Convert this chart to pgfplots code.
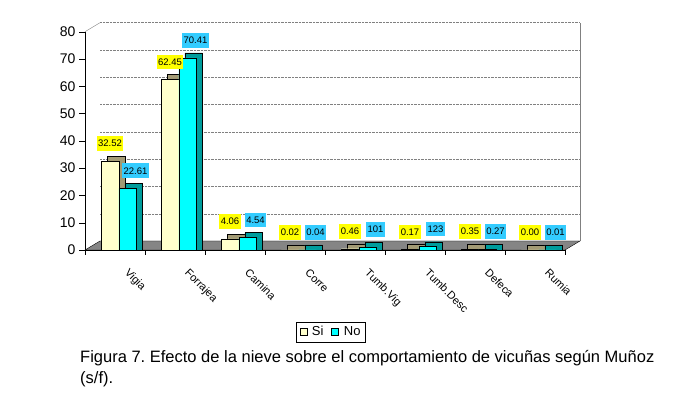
\documentclass[border=0pt]{standalone}
\usepackage{fontspec}
\setmainfont{Liberation Sans}
\usepackage{pgfplots}
\usepackage{pgfplotstable}
\pgfplotsset{compat=1.18}
\definecolor{siface}{HTML}{FFFFCC}
\definecolor{noface}{HTML}{00FFFF}
\definecolor{sidepth}{HTML}{A39B75}
\definecolor{nodepth}{HTML}{009C9C}
\definecolor{silab}{HTML}{FFFF00}
\definecolor{nolab}{HTML}{33CCFF}
\definecolor{floorc}{HTML}{858585}
\pgfplotstableread{
x y lab
0 32.52 32.52
1 62.45 62.45
2 4.06 4.06
3 0.02 0.02
4 0.46 0.46
5 0.17 0.17
6 0.35 0.35
7 0.00 0.00
}\sidata
\pgfplotstableread{
x y lab
0 22.61 22.61
1 70.41 70.41
2 4.54 4.54
3 0.04 0.04
4 1.01 101
5 1.23 123
6 0.27 0.27
7 0.01 0.01
}\nodata
\frenchspacing
\begin{document}
\begin{tikzpicture}[x=1pt,y=1pt]
\useasboundingbox (0,0) rectangle (684,398);
\begin{axis}[
  at={(85pt,148pt)}, anchor=south west,
  scale only axis, width=480pt, height=218.3pt,
  xmin=-0.5, xmax=7.5, ymin=0, ymax=80,
  clip=false,
  axis x line*=bottom, axis y line*=left,
  ytick={0,10,...,80},
  xtick={0,...,7},
  xticklabels={Vigia,Forrajea,Camina,Corre,Tumb.Vig,Tumb.Desc,Defeca,Rumia},
  major x tick style={draw=none},
  minor xtick={-0.5,0.5,...,7.5},
  tick align=outside,
  major tick length=6pt, minor tick length=5pt,
  tick style={black},
  /pgf/number format/assume math mode=true,
  yticklabel style={font=\fontsize{14}{14}\selectfont},
  xticklabel style={font=\fontsize{11}{11}\selectfont, xshift=15pt, yshift=-7pt, rotate=-45, anchor=north west},
  ybar, bar width=17.5pt,
  legend style={at={(0.5125,-0.3756)}, anchor=center, legend columns=2, draw=black,
    font=\fontsize{13}{13}\selectfont, inner xsep=3pt, inner ysep=2.5pt,
    /tikz/every odd column/.append style={column sep=3pt},
    /tikz/every even column/.append style={column sep=6pt}},
  legend image code/.code={\draw[#1,draw=black] (0pt,-3.5pt) rectangle (7pt,3.5pt);},
]
% back wall grid and frame
\pgfplotsinvokeforeach{10,20,30,40,50,60,70,80}{
  \draw[gray, densely dotted] (axis cs:-0.25,#1+3.3) -- (axis cs:7.75,#1+3.3);
}
\draw[gray] (axis cs:7.75,3.3) -- (axis cs:7.75,83.3);
\draw[gray] (axis cs:-0.5,80) -- (axis cs:-0.25,83.3);
% floor
\fill[floorc, draw=black] (axis cs:-0.5,0) -- (axis cs:7.5,0) -- (axis cs:7.75,3.3) -- (axis cs:-0.25,3.3) -- cycle;
% Si
\addplot[fill=sidepth, draw=black, bar shift=1pt, forget plot] table[x=x, y expr=\thisrow{y}+1.8] {\sidata};
\addplot[fill=siface, draw=black, bar shift=-5pt,
  point meta=explicit symbolic, nodes near coords={\pgfplotspointmeta},
  nodes near coords style={fill=silab, font=\fontsize{9.5}{10}\selectfont, inner xsep=1.5pt, inner ysep=4pt, anchor=south, yshift=10pt}
  ] table[x=x, y=y, meta=lab] {\sidata};
\addlegendentry{Si}
% No
\addplot[fill=nodepth, draw=black, bar shift=18.5pt, forget plot] table[x=x, y expr=\thisrow{y}+1.8] {\nodata};
\addplot[fill=noface, draw=black, bar shift=12.5pt,
  point meta=explicit symbolic, nodes near coords={\pgfplotspointmeta},
  nodes near coords style={fill=nolab, font=\fontsize{9.5}{10}\selectfont, inner xsep=1.5pt, inner ysep=4pt, anchor=south, yshift=10pt, xshift=8pt}
  ] table[x=x, y=y, meta=lab] {\nodata};
\addlegendentry{No}
\end{axis}
\node[anchor=north west, align=left, font=\fontsize{16.5}{21}\selectfont, inner sep=0pt] at (80,48)
  {Figura 7. Efecto de la nieve sobre el comportamiento de vicuñas según Muñoz\\(s/f).};
\end{tikzpicture}
\end{document}
